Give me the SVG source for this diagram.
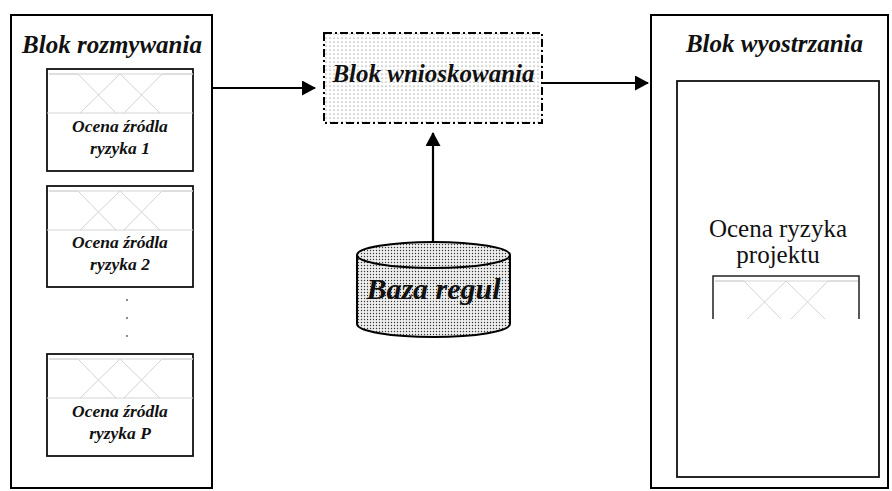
<svg xmlns="http://www.w3.org/2000/svg" width="892" height="491" viewBox="0 0 892 491">
<style>
.box{fill:#fff;stroke:#000;stroke-width:2}
.inner{fill:#fff;stroke:#111;stroke-width:1.8}
.title{font-family:'Liberation Serif','DejaVu Serif',serif;font-weight:bold;font-style:italic;font-size:25px;fill:#111;text-anchor:middle}
.lbl{font-family:'Liberation Serif','DejaVu Serif',serif;font-weight:bold;font-style:italic;font-size:17.5px;fill:#111;text-anchor:middle}
.reg{font-family:'Liberation Serif','DejaVu Serif',serif;font-size:25px;fill:#111;text-anchor:middle}
.mfl{fill:none;stroke:#d4d4d4;stroke-width:1}
.conn{stroke:#000;stroke-width:2.2;fill:none}
</style>
<defs>
<marker id="ah" markerUnits="userSpaceOnUse" markerWidth="14" markerHeight="16" refX="13" refY="7.5" orient="auto">
<path d="M0,0 L14,7.5 L0,15 Z" fill="#000"/>
</marker>
<pattern id="dots4" width="4" height="4" patternUnits="userSpaceOnUse">
<rect width="4" height="4" fill="#fff"/>
<circle cx="2" cy="2" r="0.5" fill="#444"/>
</pattern>
<pattern id="dots3" width="3" height="3" patternUnits="userSpaceOnUse">
<rect width="3" height="3" fill="#eee"/>
<circle cx="1.5" cy="1.5" r="0.7" fill="#333"/>
</pattern>
<g id="mf">
<path class="mfl" d="M2,5 H146"/>
<path class="mfl" d="M2,5 H31 L69,44"/>
<path class="mfl" d="M33,44 L73,5 L113,44"/>
<path class="mfl" d="M77,44 L115,5 H146"/>
<path class="mfl" d="M0,44 H146"/>
</g>
<clipPath id="clipR"><rect x="712" y="275" width="149" height="44"/></clipPath>
</defs>

<g id="blok-rozmywania">
<rect class="box" x="11" y="15" width="201" height="473"/>
<text class="title" x="112" y="53">Blok rozmywania</text>
</g>

<g id="ocena-1">
<rect class="inner" x="47" y="69" width="146" height="102"/>
<use href="#mf" x="47" y="69"/>
<text class="lbl" x="120" y="132">Ocena źródla</text>
<text class="lbl" x="120" y="154">ryzyka 1</text>
</g>

<g id="ocena-2">
<rect class="inner" x="47" y="186" width="146" height="101"/>
<use href="#mf" x="47" y="186"/>
<text class="lbl" x="120" y="248">Ocena źródla</text>
<text class="lbl" x="120" y="270">ryzyka 2</text>
</g>

<g id="ellipsis">
<circle cx="127" cy="300" r="0.9" fill="#555"/>
<circle cx="127" cy="318" r="0.9" fill="#555"/>
<circle cx="127" cy="336" r="0.9" fill="#555"/>
</g>

<g id="ocena-p">
<rect class="inner" x="47" y="354" width="146" height="102"/>
<use href="#mf" x="47" y="354"/>
<text class="lbl" x="120" y="417">Ocena źródla</text>
<text class="lbl" x="120" y="439">ryzyka P</text>
</g>

<g id="blok-wnioskowania">
<rect x="324" y="33" width="218" height="90" fill="url(#dots4)" stroke="#000" stroke-width="2" stroke-dasharray="8 3 2 3"/>
<text class="title" x="433.5" y="82">Blok wnioskowania</text>
</g>

<g id="baza-regul">
<path d="M357,255 V324 A76.5,13 0 0 0 510,324 V255" fill="url(#dots3)" stroke="#000" stroke-width="2"/>
<ellipse cx="433.5" cy="255" rx="76.5" ry="13" fill="url(#dots3)" stroke="#000" stroke-width="2"/>
<text class="title" x="433.5" y="299" style="font-size:30px">Baza regul</text>
</g>

<g id="blok-wyostrzania">
<rect class="box" x="651" y="15" width="237" height="473"/>
<text class="title" x="774.5" y="52">Blok wyostrzania</text>
<rect class="inner" x="677" y="81" width="202" height="396"/>
<text class="reg" x="778" y="237">Ocena ryzyka</text>
<text class="reg" x="778" y="263">projektu</text>
<g clip-path="url(#clipR)">
<use href="#mf" x="713" y="276"/>
</g>
<path d="M713,319 V276 H859 V319" fill="none" stroke="#222" stroke-width="1.5"/>
</g>

<g id="connectors">
<line class="conn" x1="212" y1="88" x2="315" y2="88" marker-end="url(#ah)"/>
<line class="conn" x1="542" y1="83" x2="648" y2="83" marker-end="url(#ah)"/>
<line class="conn" x1="433" y1="242" x2="433" y2="133" marker-end="url(#ah)"/>
</g>
</svg>
